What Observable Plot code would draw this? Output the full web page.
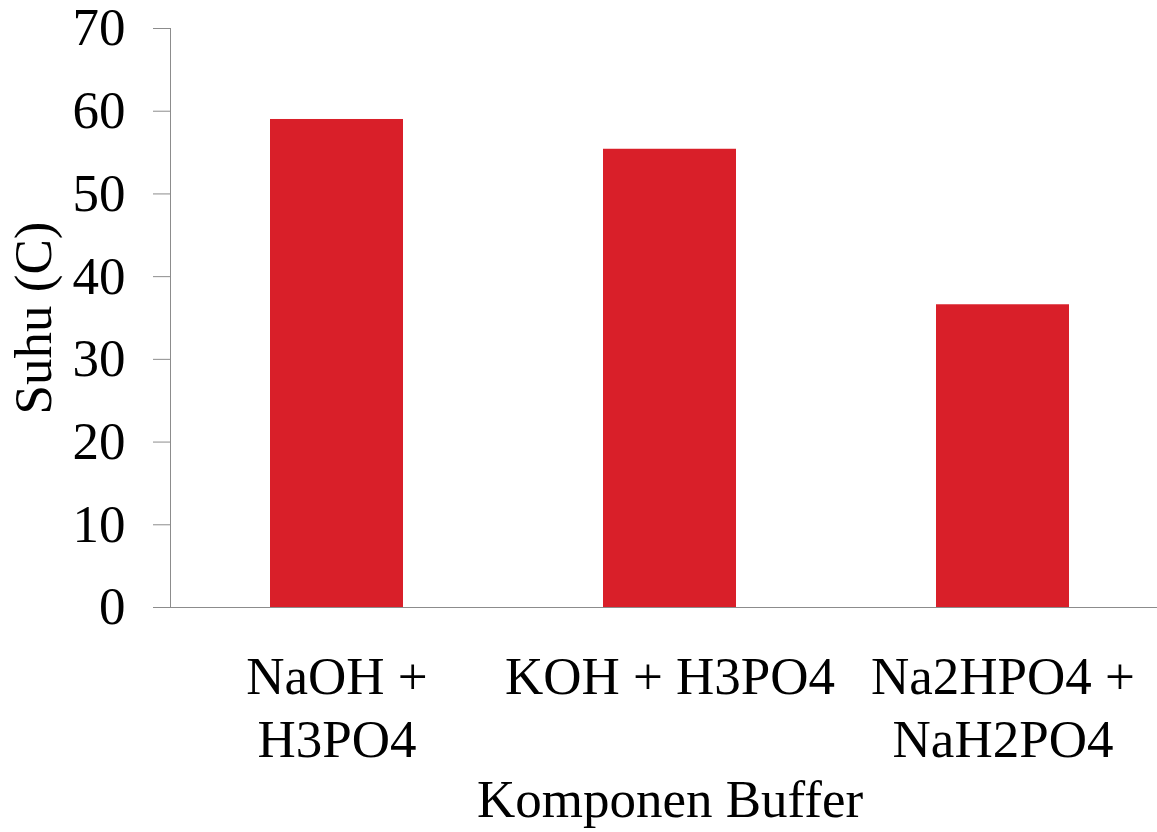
<!DOCTYPE html>
<html>
<head>
<meta charset="utf-8">
<script src="https://cdn.jsdelivr.net/npm/d3@7"></script>
<script src="https://cdn.jsdelivr.net/npm/@observablehq/plot@0.6"></script>
<style>
  html, body { margin: 0; padding: 0; background: #fff; overflow: hidden; }
</style>
</head>
<body>
<div id="chart"></div>
<script>
// Buffer components and the measured temperature for each
const categories = ["NaOH + H3PO4", "KOH + H3PO4", "Na2HPO4 + NaH2PO4"];
const tickLabels = ["NaOH +\nH3PO4", "KOH + H3PO4", "Na2HPO4 +\nNaH2PO4"];
const suhu = [59.0, 55.4, 36.6];
const yTicks = [0, 10, 20, 30, 40, 50, 60, 70];

const data = categories.map((c, i) => ({kategori: c, suhu: suhu[i]}));
const labelOf = new Map(categories.map((c, i) => [c, tickLabels[i]]));

const axisColor = "#8c8c8c";
const font = "'Liberation Serif', 'Times New Roman', Times, serif";

const chart = Plot.plot({
  width: 1157,
  height: 832,
  marginTop: 28,
  marginBottom: 225,
  marginLeft: 170,
  marginRight: 0,
  style: {fontFamily: font, fontSize: "53px", color: "#000", background: "#fff"},
  x: {domain: categories, range: [170, 1170], paddingInner: 0.6, paddingOuter: 0.3},
  y: {domain: [0, 70], range: [607, 28]},
  marks: [
    Plot.barY(data, {x: "kategori", y: "suhu", fill: "#d91f29"}),
    Plot.axisY({
      ticks: yTicks,
      tickSize: 17,
      tickPadding: 28,
      stroke: axisColor,
      strokeOpacity: 1,
      label: "Suhu (C)",
      labelAnchor: "center",
      labelOffset: 157,
      labelArrow: "none"
    }),
    Plot.frame({anchor: "left", stroke: axisColor}),
    Plot.ruleY([0], {stroke: axisColor}),
    Plot.axisX({
      tickSize: 0,
      tickPadding: 42,
      lineHeight: 1.19,
      tickFormat: (d) => labelOf.get(d),
      label: null
    }),
    Plot.text(["Komponen Buffer"], {
      frameAnchor: "bottom",
      lineAnchor: "bottom",
      dy: 209,
      dx: 6,
      fill: "#000"
    })
  ]
});

document.getElementById("chart").appendChild(chart);
</script>
</body>
</html>
